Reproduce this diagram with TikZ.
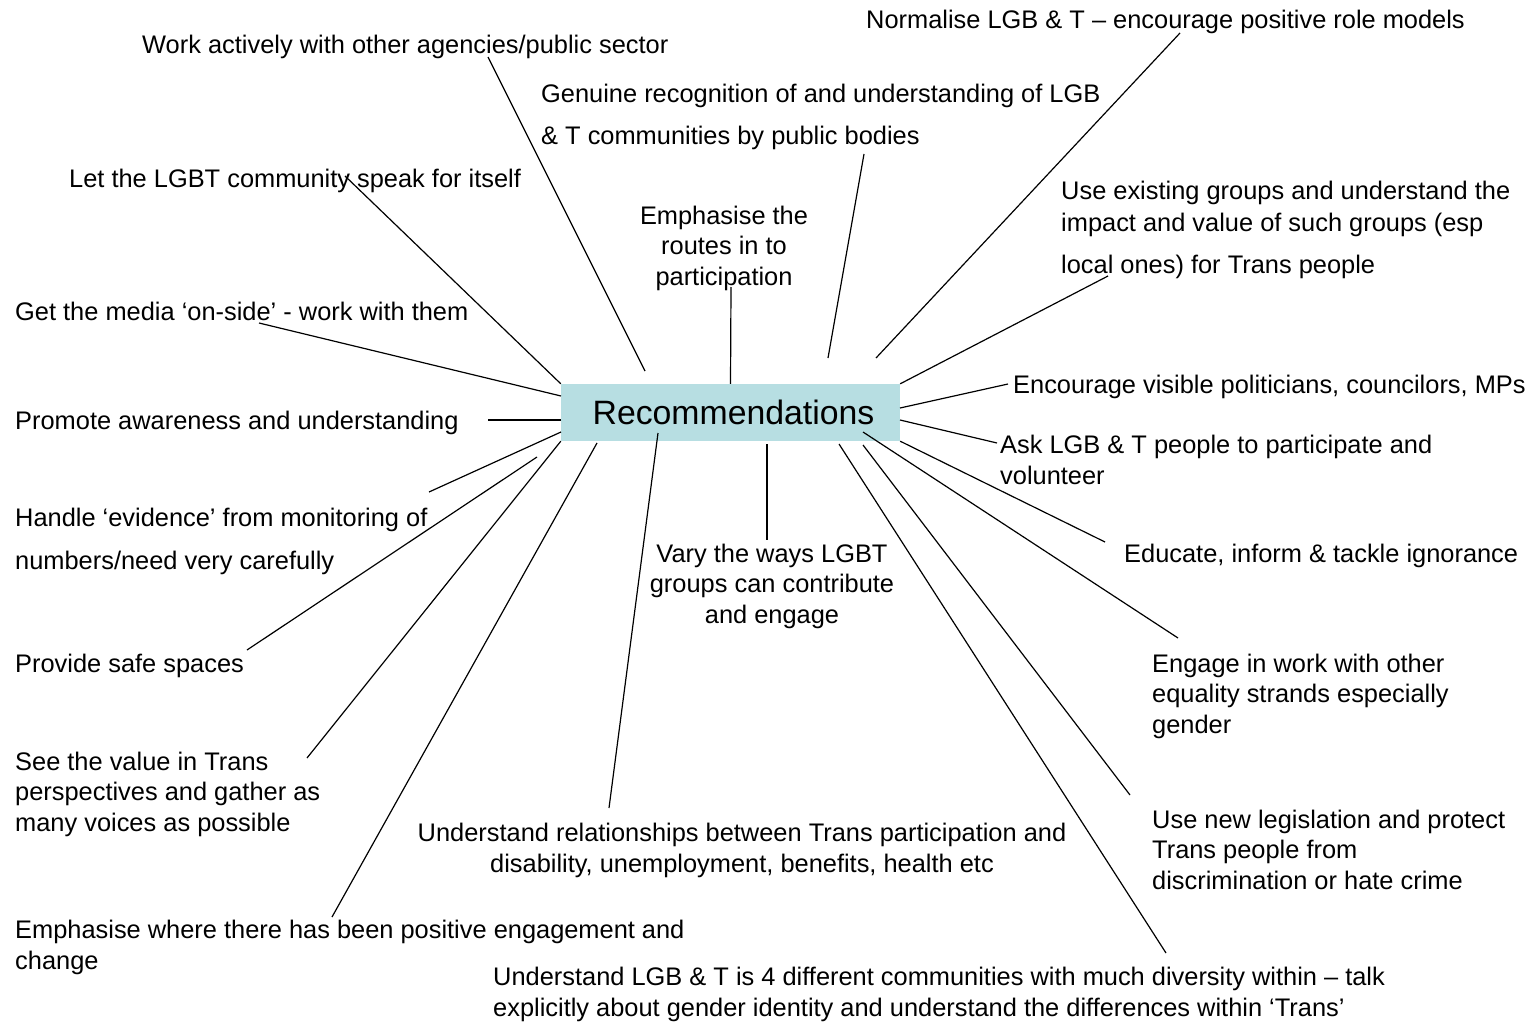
\documentclass[tikz,border=0pt]{standalone}
\usepackage{fontspec}
\setmainfont{Liberation Sans}
\usepackage{tikz}
\usetikzlibrary{positioning}
\definecolor{paleteal}{RGB}{183,222,226}

\begin{document}
\begin{tikzpicture}[x=1pt, y=-1pt]
  \tikzstyle{item} = [inner sep=0pt, anchor=base west, align=left, font=\fontsize{25.4}{30.5}\selectfont]
  \tikzstyle{citem} = [item, anchor=base, align=center]
  \tikzstyle{hub} = [rectangle, fill=paleteal, minimum width=339pt, minimum height=57pt, inner sep=0pt, font=\fontsize{33.8}{40}\selectfont]
  \tikzstyle{spoke} = [line width=1.2pt, black]

  \useasboundingbox (0,0) rectangle (1533,1022);

  \node [hub] (rec) at (730.5,412.5) {\hspace*{6pt}Recommendations};

  \node [item] (work) at (142,54) {Work actively with other agencies/public sector};
  \node [item] (norm) at (866,29) {Normalise LGB \& T – encourage positive role models};
  \node [item] (genu) at (541,145) {Genuine recognition of and understanding of LGB\\[11.5pt]\& T communities by public bodies};
  \node [item] (let) at (69,187) {Let the LGBT community speak for itself};
  \node [citem] (route) at (724,285) {Emphasise the\\routes in to\\participation};
  \node [item] (exist) at (1061,273) {Use existing groups and understand the\\[1.5pt]impact and value of such groups (esp\\[11.5pt]local ones) for Trans people};
  \node [item] (media) at (15,320) {Get the media ‘on-side’ - work with them};
  \node [item] (promo) at (15,429) {Promote awareness and understanding};
  \node [item] (visib) at (1013,393) {Encourage visible politicians, councilors, MPs};
  \node [item] (ask) at (1000,484) {Ask LGB \& T people to participate and\\volunteer};
  \node [item] (handle) at (15,569) {Handle ‘evidence’ from monitoring of\\[12.5pt]numbers/need very carefully};
  \node [item] (educ) at (1124,562) {Educate, inform \& tackle ignorance};
  \node [citem] (vary) at (772,623) {Vary the ways LGBT\\groups can contribute\\and engage};
  \node [item] (safe) at (15,672) {Provide safe spaces};
  \node [item] (engage) at (1152,733) {Engage in work with other\\equality strands especially\\gender};
  \node [item] (see) at (15,831) {See the value in Trans\\perspectives and gather as\\many voices as possible};
  \node [citem] (rel) at (742,872) {Understand relationships between Trans participation and\\disability, unemployment, benefits, health etc};
  \node [item] (legis) at (1152,889) {Use new legislation and protect\\Trans people from\\discrimination or hate crime};
  \node [item] (posit) at (15,969) {Emphasise where there has been positive engagement and\\change};
  \node [item] (diver) at (493,1016) {Understand LGB \& T is 4 different communities with much diversity within – talk\\explicitly about gender identity and understand the differences within ‘Trans’};

  \coordinate (work-in) at (645,371);   \coordinate (work-out) at (488,57);
  \coordinate (norm-in) at (876,358);   \coordinate (norm-out) at (1180,33);
  \coordinate (genu-in) at (828,358);   \coordinate (genu-out) at (864,154);
  \coordinate (let-out) at (345,176);
  \coordinate (route-out) at (731,287);
  \coordinate (exist-out) at (1108,276);
  \coordinate (media-in) at (561,396);  \coordinate (media-out) at (259,323);
  \coordinate (promo-in) at (561,420);  \coordinate (promo-out) at (488,420);
  \coordinate (visib-in) at (900,408);  \coordinate (visib-out) at (1008,384);
  \coordinate (ask-in) at (900,420);    \coordinate (ask-out) at (997,443);
  \coordinate (educ-out) at (1105,542);
  \coordinate (handle-in) at (561,432); \coordinate (handle-out) at (429,492);
  \coordinate (safe-in) at (537,457);   \coordinate (safe-out) at (247,650);
  \coordinate (engage-in) at (863,432); \coordinate (engage-out) at (1178,638);
  \coordinate (see-out) at (307,758);
  \coordinate (vary-in) at (767,444);   \coordinate (vary-out) at (767,540);
  \coordinate (legis-in) at (863,445);  \coordinate (legis-out) at (1130,795);
  \coordinate (rel-in) at (658,433);    \coordinate (rel-out) at (609,808);
  \coordinate (posit-in) at (597,443);  \coordinate (posit-out) at (332,917);
  \coordinate (diver-in) at (839,444);  \coordinate (diver-out) at (1166,953);

  \draw[spoke] (work-in) -- (work-out);
  \draw[spoke] (norm-in) -- (norm-out);
  \draw[spoke] (genu-in) -- (genu-out);
  \draw[spoke] (rec.north west) -- (let-out);
  \draw[spoke] (rec.north) -- (route-out);
  \draw[spoke] (rec.north east) -- (exist-out);
  \draw[spoke] (media-in) -- (media-out);
  \draw[spoke] (promo-in) -- (promo-out);
  \draw[spoke] (visib-in) -- (visib-out);
  \draw[spoke] (ask-in) -- (ask-out);
  \draw[spoke] (rec.south east) -- (educ-out);
  \draw[spoke] (handle-in) -- (handle-out);
  \draw[spoke] (safe-in) -- (safe-out);
  \draw[spoke] (engage-in) -- (engage-out);
  \draw[spoke] (rec.south west) -- (see-out);
  \draw[spoke] (vary-in) -- (vary-out);
  \draw[spoke] (legis-in) -- (legis-out);
  \draw[spoke] (rel-in) -- (rel-out);
  \draw[spoke] (posit-in) -- (posit-out);
  \draw[spoke] (diver-in) -- (diver-out);
\end{tikzpicture}
\end{document}
